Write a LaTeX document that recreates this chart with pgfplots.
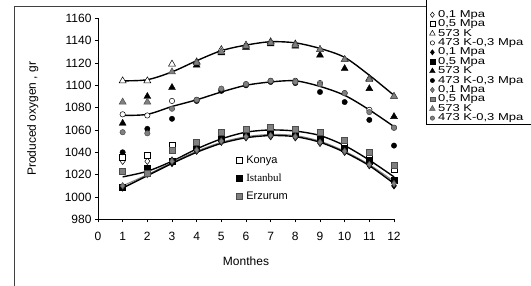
\documentclass[border=0pt]{standalone}
\usepackage{graphicx}
\usepackage{pgfplots}
\usepackage{pgfplotstable}
\pgfplotsset{compat=1.18}
\usepackage{fontspec}
\setmainfont{Liberation Sans}
\newfontfamily\seriffont{Liberation Serif}
\newcommand\lt[1]{\scalebox{1.3}[1]{#1}}

\pgfplotstableread{
m KD KS KT KC ID IS IT IC ED ES ET EC
1 1032 1036 1104 1074 1008 1009 1066 1040 1010 1023 1085 1058
2 1032 1037 1104 1073 1022 1026 1090 1061 1020 1021 1085 1057
3 1033 1046 1119 1086 1030 1032 1098 1070 1032 1042 1112 1079
4 1042 1047 1121 1087 1041 1045 1118 1086 1042 1049 1120 1087
5 1050 1056 1132 1096 1049 1053 1129 1095 1050 1058 1130 1097
6 1054 1060 1136 1101 1053 1057 1134 1100 1054 1061 1135 1101
7 1055 1061 1139 1104 1054 1058 1137 1103 1055 1062 1138 1104
8 1054 1060 1137 1104 1053 1057 1135 1102 1054 1061 1136 1103
9 1050 1057 1132 1102 1048 1052 1127 1094 1049 1058 1132 1101
10 1042 1049 1123 1093 1040 1044 1115 1085 1041 1051 1123 1093
11 1030 1038 1106 1078 1028 1032 1097 1069 1029 1040 1105 1076
12 1015 1025 1090 1062 1010 1015 1072 1046 1012 1028 1090 1062
}\data

\pgfplotstableread{
m TT TC TA TB TG
1 1104 1073 1018 1008 1010
2 1105 1074 1023 1019 1020
3 1112 1081 1032 1030 1031
4 1122 1087 1043 1040 1041
5 1131 1094 1052 1048 1049
6 1136 1100 1058 1053 1054
7 1139 1103 1060 1055 1056
8 1138 1104 1059 1054 1055
9 1133 1099 1055 1049 1050
10 1125 1091 1046 1040 1041
11 1109 1078 1033 1028 1029
12 1091 1063 1018 1012 1014
}\trend

\definecolor{ergray}{RGB}{128,128,128}

\begin{document}
\begin{tikzpicture}[x=1pt,y=1pt]
\useasboundingbox (0,0) rectangle (531,286);
\fill[white] (0,0) rectangle (531,286);
% chart area frame
\draw[line width=0.8pt, black!75] (14,0) -- (14,280) -- (426,280);
% legend frame (left and bottom edges visible)
\draw[line width=0.7pt, black] (426,290) -- (426,162) -- (535,162);

\begin{axis}[
  at={(98pt,66.7pt)}, anchor=south west,
  scale only axis, width=296pt, height=201pt,
  xmin=0, xmax=12, ymin=980, ymax=1160,
  axis x line*=bottom, axis y line*=left,
  axis line style={line width=0.6pt, -},
  xtick={0,1,...,12}, ytick={980,1000,...,1160},
  tick align=outside, major tick length=3pt,
  tick style={line width=0.6pt, black},
  /pgf/number format/assume math mode=true,
  /pgf/number format/1000 sep={},
  ticklabel style={font=\fontsize{12}{14}\selectfont},
  xticklabel style={yshift=-6pt},
  xlabel={Monthes}, ylabel={Produced oxygen , gr},
  label style={font=\fontsize{12}{14}\selectfont},
  xlabel style={at={(axis description cs:0.5,-0.21)}, anchor=center},
  ylabel style={at={(axis description cs:-0.22,0.5)}, anchor=center},
  clip=false,
  legend style={at={(1.1081,0.474)}, anchor=south west, draw=none, fill=none,
    font=\fontsize{10}{11}\selectfont, row sep=0pt, inner sep=1pt,
    nodes={inner sep=0.5pt, text height=6.8pt, text depth=1.6pt},
    legend cell align=left},
  legend image code/.code={\draw[/tikz/every mark/.append style={scale=0.8}] plot coordinates {(5pt,0pt)}; \path (0pt,0pt) (10pt,0pt);},
]
% trendlines
\addplot[forget plot, black, line width=1.4pt, smooth] table[x=m,y=TT]{\trend};
\addplot[forget plot, black, line width=1.4pt, smooth] table[x=m,y=TC]{\trend};
\addplot[forget plot, black, line width=1.4pt, smooth] table[x=m,y=TA]{\trend};
\addplot[forget plot, ergray, line width=1.0pt, smooth] table[x=m,y=TG]{\trend};
\addplot[forget plot, black, line width=1.4pt, smooth] table[x=m,y=TB]{\trend};

% Konya (white)
\addplot[only marks, mark=diamond*, mark size=3.3pt, mark options={fill=white, draw=black, line width=0.5pt}] table[x=m,y=KD]{\data};
\addlegendentry{\lt{0,1 Mpa}}
\addplot[only marks, mark=square*, mark size=3pt, mark options={fill=white, draw=black, line width=0.5pt}] table[x=m,y=KS]{\data};
\addlegendentry{\lt{0,5 Mpa}}
\addplot[only marks, mark=triangle*, mark size=4pt, mark options={fill=white, draw=black, line width=0.5pt}] table[x=m,y=KT]{\data};
\addlegendentry{\lt{573 K}}
\addplot[only marks, mark=*, mark size=2.7pt, mark options={fill=white, draw=black, line width=0.5pt}] table[x=m,y=KC]{\data};
\addlegendentry{\lt{473 K-0,3 Mpa}}
% Istanbul (black)
\addplot[only marks, mark=diamond*, mark size=3.3pt, mark options={fill=black, draw=black}] table[x=m,y=ID]{\data};
\addlegendentry{\lt{0,1 Mpa}}
\addplot[only marks, mark=square*, mark size=3pt, mark options={fill=black, draw=black}] table[x=m,y=IS]{\data};
\addlegendentry{\lt{0,5 Mpa}}
\addplot[only marks, mark=triangle*, mark size=4pt, mark options={fill=black, draw=black}] table[x=m,y=IT]{\data};
\addlegendentry{\lt{573 K}}
\addplot[only marks, mark=*, mark size=2.7pt, mark options={fill=black, draw=black}] table[x=m,y=IC]{\data};
\addlegendentry{\lt{473 K-0,3 Mpa}}
% Erzurum (gray)
\addplot[only marks, mark=diamond*, mark size=3.3pt, mark options={fill=ergray, draw=black!70, line width=0.5pt}] table[x=m,y=ED]{\data};
\addlegendentry{\lt{0,1 Mpa}}
\addplot[only marks, mark=square*, mark size=3pt, mark options={fill=ergray, draw=black!70, line width=0.5pt}] table[x=m,y=ES]{\data};
\addlegendentry{\lt{0,5 Mpa}}
\addplot[only marks, mark=triangle*, mark size=4pt, mark options={fill=ergray, draw=black!70, line width=0.5pt}] table[x=m,y=ET]{\data};
\addlegendentry{\lt{573 K}}
\addplot[only marks, mark=*, mark size=2.7pt, mark options={fill=ergray, draw=black!70, line width=0.5pt}] table[x=m,y=EC]{\data};
\addlegendentry{\lt{473 K-0,3 Mpa}}
\end{axis}

% inner city legend
\begin{axis}[
  at={(98pt,66.7pt)}, anchor=south west,
  scale only axis, width=296pt, height=201pt,
  xmin=0, xmax=12, ymin=980, ymax=1160,
  hide axis,
  legend style={at={(0.455,0.33)}, anchor=north west, draw=none, fill=none,
    font=\fontsize{11}{12}\selectfont, row sep=5.5pt, inner sep=1pt,
    nodes={inner sep=1pt, text height=8pt, text depth=2.5pt},
    legend cell align=left},
  legend image code/.code={\draw plot coordinates {(5pt,0pt)}; \path (0pt,0pt) (11pt,0pt);},
]
\addlegendimage{only marks, mark=square*, mark size=3pt, mark options={fill=white, draw=black, line width=0.5pt}}
\addlegendentry{Konya}
\addlegendimage{only marks, mark=square*, mark size=3pt, mark options={fill=black, draw=black}}
\addlegendentry{\seriffont Istanbul}
\addlegendimage{only marks, mark=square*, mark size=3pt, mark options={fill=ergray, draw=black!70, line width=0.5pt}}
\addlegendentry{Erzurum}
\end{axis}
\end{tikzpicture}
\end{document}
